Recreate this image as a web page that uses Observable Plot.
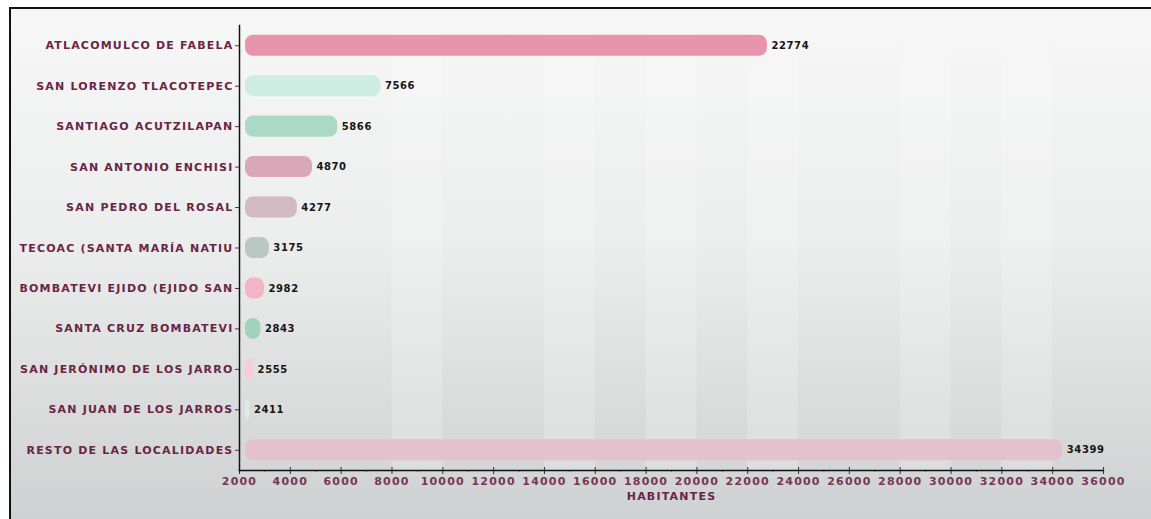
<!DOCTYPE html>
<html>
<head>
<meta charset="utf-8">
<script src="https://cdn.jsdelivr.net/npm/d3@7"></script>
<script src="https://cdn.jsdelivr.net/npm/@observablehq/plot@0.6"></script>
<style>
  html, body { margin: 0; padding: 0; background: #ffffff; }
  #wrap { position: relative; width: 1151px; height: 519px; overflow: hidden; }
  #bg { position: absolute; left: 9px; top: 7px; right: 0; bottom: 0;
        border-left: 2px solid #111; border-top: 2px solid #111;
        background: linear-gradient(to bottom, #f7f7f7 0%, #eceded 45%, #d9dbdb 80%, #cfd2d2 100%); }
  #chart { position: absolute; left: 0; top: 0; }
</style>
</head>
<body>
<div id="wrap"><div id="bg"></div><div id="chart"></div></div>
<script>
const localidades = [
  "ATLACOMULCO DE FABELA",
  "SAN LORENZO TLACOTEPEC",
  "SANTIAGO ACUTZILAPAN",
  "SAN ANTONIO ENCHISI",
  "SAN PEDRO DEL ROSAL",
  "TECOAC (SANTA MARÍA NATIU",
  "BOMBATEVI EJIDO (EJIDO SAN",
  "SANTA CRUZ BOMBATEVI",
  "SAN JERÓNIMO DE LOS JARRO",
  "SAN JUAN DE LOS JARROS",
  "RESTO DE LAS LOCALIDADES"
];
const habitantes = [22774, 7566, 5866, 4870, 4277, 3175, 2982, 2843, 2555, 2411, 34399];
const colores = ["#e795ae", "#cdece2", "#acd9c7", "#d9a7b7", "#d1bac2", "#b9c8c3", "#f1b5c6", "#a3d1bf", "#f5ccd8", "#d6eee6", "#e5c0cd"];
const ticksX = [2000, 4000, 6000, 8000, 10000, 12000, 14000, 16000, 18000, 20000, 22000, 24000, 26000, 28000, 30000, 32000, 34000, 36000];
const ticksMenores = [3000, 5000, 7000, 9000, 11000, 13000, 15000, 17000, 19000, 21000, 23000, 25000, 27000, 29000, 31000, 33000, 35000];
const franjas = [[8000, 10000], [14000, 16000], [18000, 20000], [22000, 24000], [28000, 30000], [32000, 34000]];
const origen = 2000;
const tituloX = "HABITANTES";

const data = localidades.map((nombre, i) => ({nombre, valor: habitantes[i], color: colores[i]}));

const font = "'DejaVu Sans', sans-serif";
const chart = Plot.plot({
  width: 1151,
  height: 519,
  marginLeft: 239,
  marginRight: 48,
  marginTop: 25,
  marginBottom: 49,
  style: {background: "transparent", fontFamily: font, fontSize: "11px", overflow: "visible"},
  x: {domain: [2000, 36000]},
  y: {domain: localidades, paddingInner: 0.48, paddingOuter: 0.24, round: false},
  marks: [
    Plot.rect(franjas, {x1: d => d[0], x2: d => d[1], fill: "#ffffff", fillOpacity: 0.18}),
    Plot.barX(data, {x1: () => origen, x2: "valor", y: "nombre", fill: "color", rx: 8, insetLeft: 6}),
    Plot.text(data, {x: "valor", y: "nombre", text: d => String(d.valor), textAnchor: "start", dx: 4,
      fill: "#151515", fontWeight: "bold", fontSize: 10, className: "vals"}),
    Plot.axisY({tickSize: 4, tickPadding: 2, label: null, color: "#6a2545", stroke: "#6a2545",
      fontSize: 11, fontWeight: "bold", className: "ylab"}),
    Plot.axisX({ticks: ticksX, tickSize: 4, tickPadding: 3, label: null, tickFormat: d => String(d),
      color: "#7a3556", stroke: "#333", fontSize: 11, fontWeight: "bold", className: "xlab"}),
    Plot.axisX({ticks: ticksX, tickSize: -3, text: null, label: null, stroke: "#333"}),
    Plot.axisX({ticks: ticksMenores, tickSize: 2, text: null, label: null, stroke: "#777"}),
    Plot.frame({anchor: "left", stroke: "#111", strokeWidth: 1.5}),
    Plot.frame({anchor: "bottom", stroke: "#111", strokeWidth: 1.5}),
    Plot.text([tituloX], {frameAnchor: "bottom", dy: 29, fill: "#6a2545", fontWeight: "bold", fontSize: 11,
      className: "xtitle"})
  ]
});
d3.select(chart).selectAll(".ylab text, .xlab text, .xtitle text").attr("letter-spacing", "1.2px");
d3.select(chart).selectAll(".vals text").attr("letter-spacing", "0.6px");
document.getElementById("chart").appendChild(chart);
</script>
</body>
</html>
